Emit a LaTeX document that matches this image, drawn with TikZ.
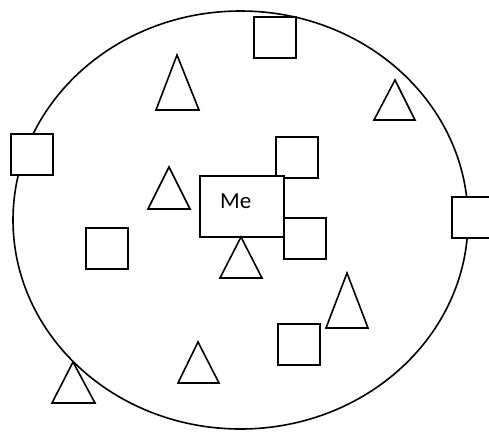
\documentclass[tikz,border=0pt]{standalone}
\usepackage{fontspec}
\setmainfont{Carlito}
\usetikzlibrary{shapes.geometric}
\begin{document}
\begin{tikzpicture}[x=1pt,y=-1pt,
  fig/.style={draw=black,fill=white,line width=1.6pt,line join=miter},
  sq/.style={fig,minimum width=42pt,minimum height=41pt,inner sep=0pt,anchor=north west}]
\useasboundingbox (0,0) rectangle (489,431);
\begin{scope}
\clip (0,0) rectangle (489,431);
\node[draw=black,line width=1.6pt,ellipse,minimum width=455pt,minimum height=418pt,inner sep=0pt] (world) at (240.5,220) {};
% squares
\node[sq] (s1) at (253,16) {};
\node[sq] (s2) at (10,133) {};
\node[sq] (s3) at (451,196) {};
\node[sq] (s4) at (275,136) {};
\node[sq] (s5) at (283,217) {};
\node[sq] (s6) at (85,227) {};
\node[sq] (s7) at (277,323) {};
% me box
\node[fig,minimum width=84pt,minimum height=61pt,inner sep=0pt,anchor=north west] (me) at (199,175) {};
\node[font=\fontsize{23}{26}\selectfont,anchor=base west,inner sep=0pt] (metext) at (220,208) {Me};
% triangles
\draw[fig] (177,55) -- (199,110) -- (156,110) -- cycle;
\draw[fig] (395,80) -- (415,120) -- (374,120) -- cycle;
\draw[fig] (169,167) -- (190,209) -- (148,209) -- cycle;
\draw[fig] (241,237) -- (262,278) -- (220,278) -- cycle;
\draw[fig] (347,273) -- (368,328) -- (326,328) -- cycle;
\draw[fig] (198,342) -- (219,383) -- (178,383) -- cycle;
\draw[fig] (73,362) -- (95,403) -- (52,403) -- cycle;
\end{scope}
\end{tikzpicture}
\end{document}
